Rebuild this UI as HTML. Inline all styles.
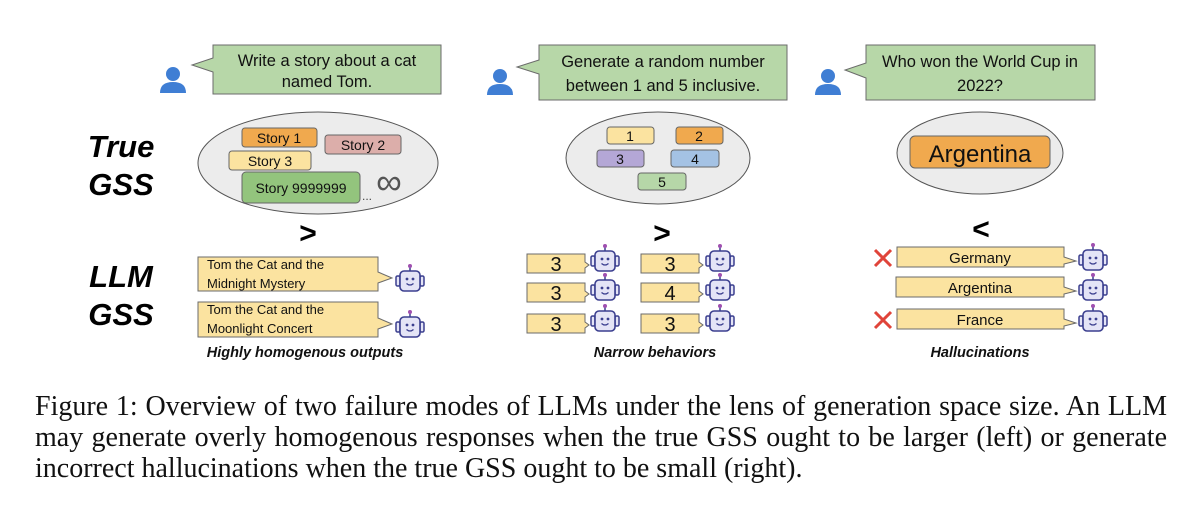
<!DOCTYPE html>
<html><head><meta charset="utf-8"><style>
body{margin:0;background:#fff;width:1200px;height:514px;overflow:hidden;position:relative;font-family:"Liberation Sans",sans-serif}
svg{position:absolute;left:0;top:0}
.cap{position:absolute;left:35px;width:1132px;font-family:"Liberation Serif",serif;font-size:28px;line-height:32px;color:#111;white-space:nowrap}
.j{text-align:justify;text-align-last:justify;white-space:normal}
</style></head><body>
<svg width="1200" height="514" viewBox="0 0 1200 514" font-family="Liberation Sans, sans-serif">
<defs>
<g id="user"><circle cx="13" cy="8" r="7" fill="#3f7ed4"/><path d="M0 27 Q0 16 13 16 Q26 16 26 27 Z" fill="#3f7ed4"/></g>
<g id="bot">
<line x1="15" y1="2" x2="15" y2="7" stroke="#3b3f8f" stroke-width="1.5"/><circle cx="15" cy="2" r="2" fill="#a050b0"/>
<rect x="1" y="12" width="4" height="10" rx="1.5" fill="#e4e4f6" stroke="#3b3f8f" stroke-width="1.5"/>
<rect x="25" y="12" width="4" height="10" rx="1.5" fill="#e4e4f6" stroke="#3b3f8f" stroke-width="1.5"/>
<rect x="5" y="7" width="20" height="20" rx="4" fill="#e4e4f6" stroke="#3b3f8f" stroke-width="1.6"/>
<circle cx="12" cy="15" r="1.4" fill="#3b3f8f"/><circle cx="18" cy="15" r="1.4" fill="#3b3f8f"/>
<path d="M11.5 19.5 Q15 22.5 18.5 19.5" fill="none" stroke="#3b3f8f" stroke-width="1.3"/>
</g>
</defs>
<g font-weight="bold" font-style="italic" font-size="31" fill="#000" text-anchor="middle">
<text x="121" y="157">True</text><text x="121" y="195">GSS</text>
<text x="121" y="287">LLM</text><text x="121" y="325">GSS</text>
</g>
<g fill="#b7d7a8" stroke="#6b6b6b" stroke-width="1">
<path d="M213 45 H441 V94 H213 V72 L192 65 L213 58 Z"/>
<path d="M539 45 H787 V100 H539 V74 L517 67 L539 60 Z"/>
<path d="M866 45 H1095 V100 H866 V78 L845 70 L866 63 Z"/>
</g>
<g font-size="16.5" fill="#111" text-anchor="middle">
<text x="327" y="66">Write a story about a cat</text><text x="327" y="87">named Tom.</text>
<text x="663" y="67">Generate a random number</text><text x="663" y="91">between 1 and 5 inclusive.</text>
<text x="980" y="67">Who won the World Cup in</text><text x="980" y="91">2022?</text>
</g>
<use href="#user" x="160" y="66"/><use href="#user" x="487" y="68"/><use href="#user" x="815" y="68"/>
<g fill="#ececec" stroke="#555" stroke-width="1">
<ellipse cx="318" cy="163" rx="120" ry="51"/>
<ellipse cx="658" cy="158" rx="92" ry="46"/>
<ellipse cx="980" cy="153" rx="83" ry="41"/>
</g>
<g stroke="#666" stroke-width="1">
<rect x="242" y="128" width="75" height="19" rx="3" fill="#f0a94e"/>
<rect x="325" y="135" width="76" height="19" rx="3" fill="#dcaeaa"/>
<rect x="229" y="151" width="82" height="19" rx="3" fill="#fbe3a0"/>
<rect x="242" y="172" width="118" height="31" rx="4" fill="#93c47d"/>
<rect x="607" y="127" width="47" height="17" rx="3" fill="#fbe3a0"/>
<rect x="676" y="127" width="47" height="17" rx="3" fill="#f0a94e"/>
<rect x="597" y="150" width="47" height="17" rx="3" fill="#b4a7d6"/>
<rect x="671" y="150" width="48" height="17" rx="3" fill="#a4c2e4"/>
<rect x="638" y="173" width="48" height="17" rx="3" fill="#b6d7a8"/>
<rect x="910" y="136" width="140" height="32" rx="5" fill="#f0a94e"/>
</g>
<g font-size="14" fill="#111" text-anchor="middle">
<text x="279" y="143">Story 1</text><text x="363" y="150">Story 2</text><text x="270" y="166">Story 3</text>
<text x="301" y="193">Story 9999999</text>
<text x="630" y="141">1</text><text x="699" y="141">2</text><text x="620" y="164">3</text><text x="695" y="164">4</text><text x="662" y="187">5</text>
</g>
<text x="980" y="162" font-size="24" text-anchor="middle" fill="#111">Argentina</text>
<text x="389" y="194" font-size="36" text-anchor="middle" fill="#555">∞</text>
<text x="367" y="200" font-size="12" text-anchor="middle" fill="#444">...</text>
<g font-size="30" font-weight="bold" fill="#000" text-anchor="middle">
<text x="308" y="243">&gt;</text><text x="662" y="243">&gt;</text><text x="981" y="239">&lt;</text>
</g>
<g fill="#fbe3a0" stroke="#6b6b6b" stroke-width="1">
<path d="M198 257 H378 V272 L392 278 L378 283 V291 H198 Z"/>
<path d="M198 302 H378 V318 L392 324 L378 329 V337 H198 Z"/>
</g>
<g font-size="13" fill="#111">
<text x="207" y="269">Tom the Cat and the</text><text x="207" y="288">Midnight Mystery</text>
<text x="207" y="314">Tom the Cat and the</text><text x="207" y="333">Moonlight Concert</text>
</g>
<use href="#bot" x="395" y="264"/><use href="#bot" x="395" y="310"/>
<g fill="#fbe3a0" stroke="#6b6b6b" stroke-width="1">
<path d="M527 254 H585 V262 L589 265 L585 268 V273 H527 Z"/>
<path d="M527 283 H585 V291 L589 294 L585 297 V302 H527 Z"/>
<path d="M527 314 H585 V322 L589 325 L585 328 V333 H527 Z"/>
<path d="M641 254 H699 V262 L703 265 L699 268 V273 H641 Z"/>
<path d="M641 283 H699 V291 L703 294 L699 297 V302 H641 Z"/>
<path d="M641 314 H699 V322 L703 325 L699 328 V333 H641 Z"/>
</g>
<g font-size="20" fill="#111" text-anchor="middle">
<text x="556" y="271">3</text><text x="556" y="300">3</text><text x="556" y="331">3</text>
<text x="670" y="271">3</text><text x="670" y="300">4</text><text x="670" y="331">3</text>
</g>
<use href="#bot" x="590" y="244"/><use href="#bot" x="590" y="273"/><use href="#bot" x="590" y="304"/>
<use href="#bot" x="705" y="244"/><use href="#bot" x="705" y="273"/><use href="#bot" x="705" y="304"/>
<g fill="#fbe3a0" stroke="#6b6b6b" stroke-width="1">
<path d="M897 247 H1064 V257 L1076 261 L1064 264 V267 H897 Z"/>
<path d="M896 277 H1064 V287 L1076 291 L1064 294 V297 H896 Z"/>
<path d="M897 309 H1064 V319 L1076 323 L1064 326 V329 H897 Z"/>
</g>
<g font-size="15" fill="#111" text-anchor="middle">
<text x="980" y="263">Germany</text><text x="980" y="293">Argentina</text><text x="980" y="325">France</text>
</g>
<g stroke="#e0443a" stroke-width="3">
<path d="M875 250 L891 266 M891 250 L875 266"/><path d="M875 312 L891 328 M891 312 L875 328"/>
</g>
<use href="#bot" x="1078" y="243"/><use href="#bot" x="1078" y="273"/><use href="#bot" x="1078" y="304"/>
<g font-size="14.5" font-weight="bold" font-style="italic" fill="#111" text-anchor="middle">
<text x="305" y="357">Highly homogenous outputs</text>
<text x="655" y="357">Narrow behaviors</text>
<text x="980" y="357">Hallucinations</text>
</g>
</svg>
<div class="cap j" style="top:391px">Figure 1: Overview of two failure modes of LLMs under the lens of generation space size. An LLM</div>
<div class="cap j" style="top:422px">may generate overly homogenous responses when the true GSS ought to be larger (left) or generate</div>
<div class="cap" style="top:453px">incorrect hallucinations when the true GSS ought to be small (right).</div>
</body></html>
